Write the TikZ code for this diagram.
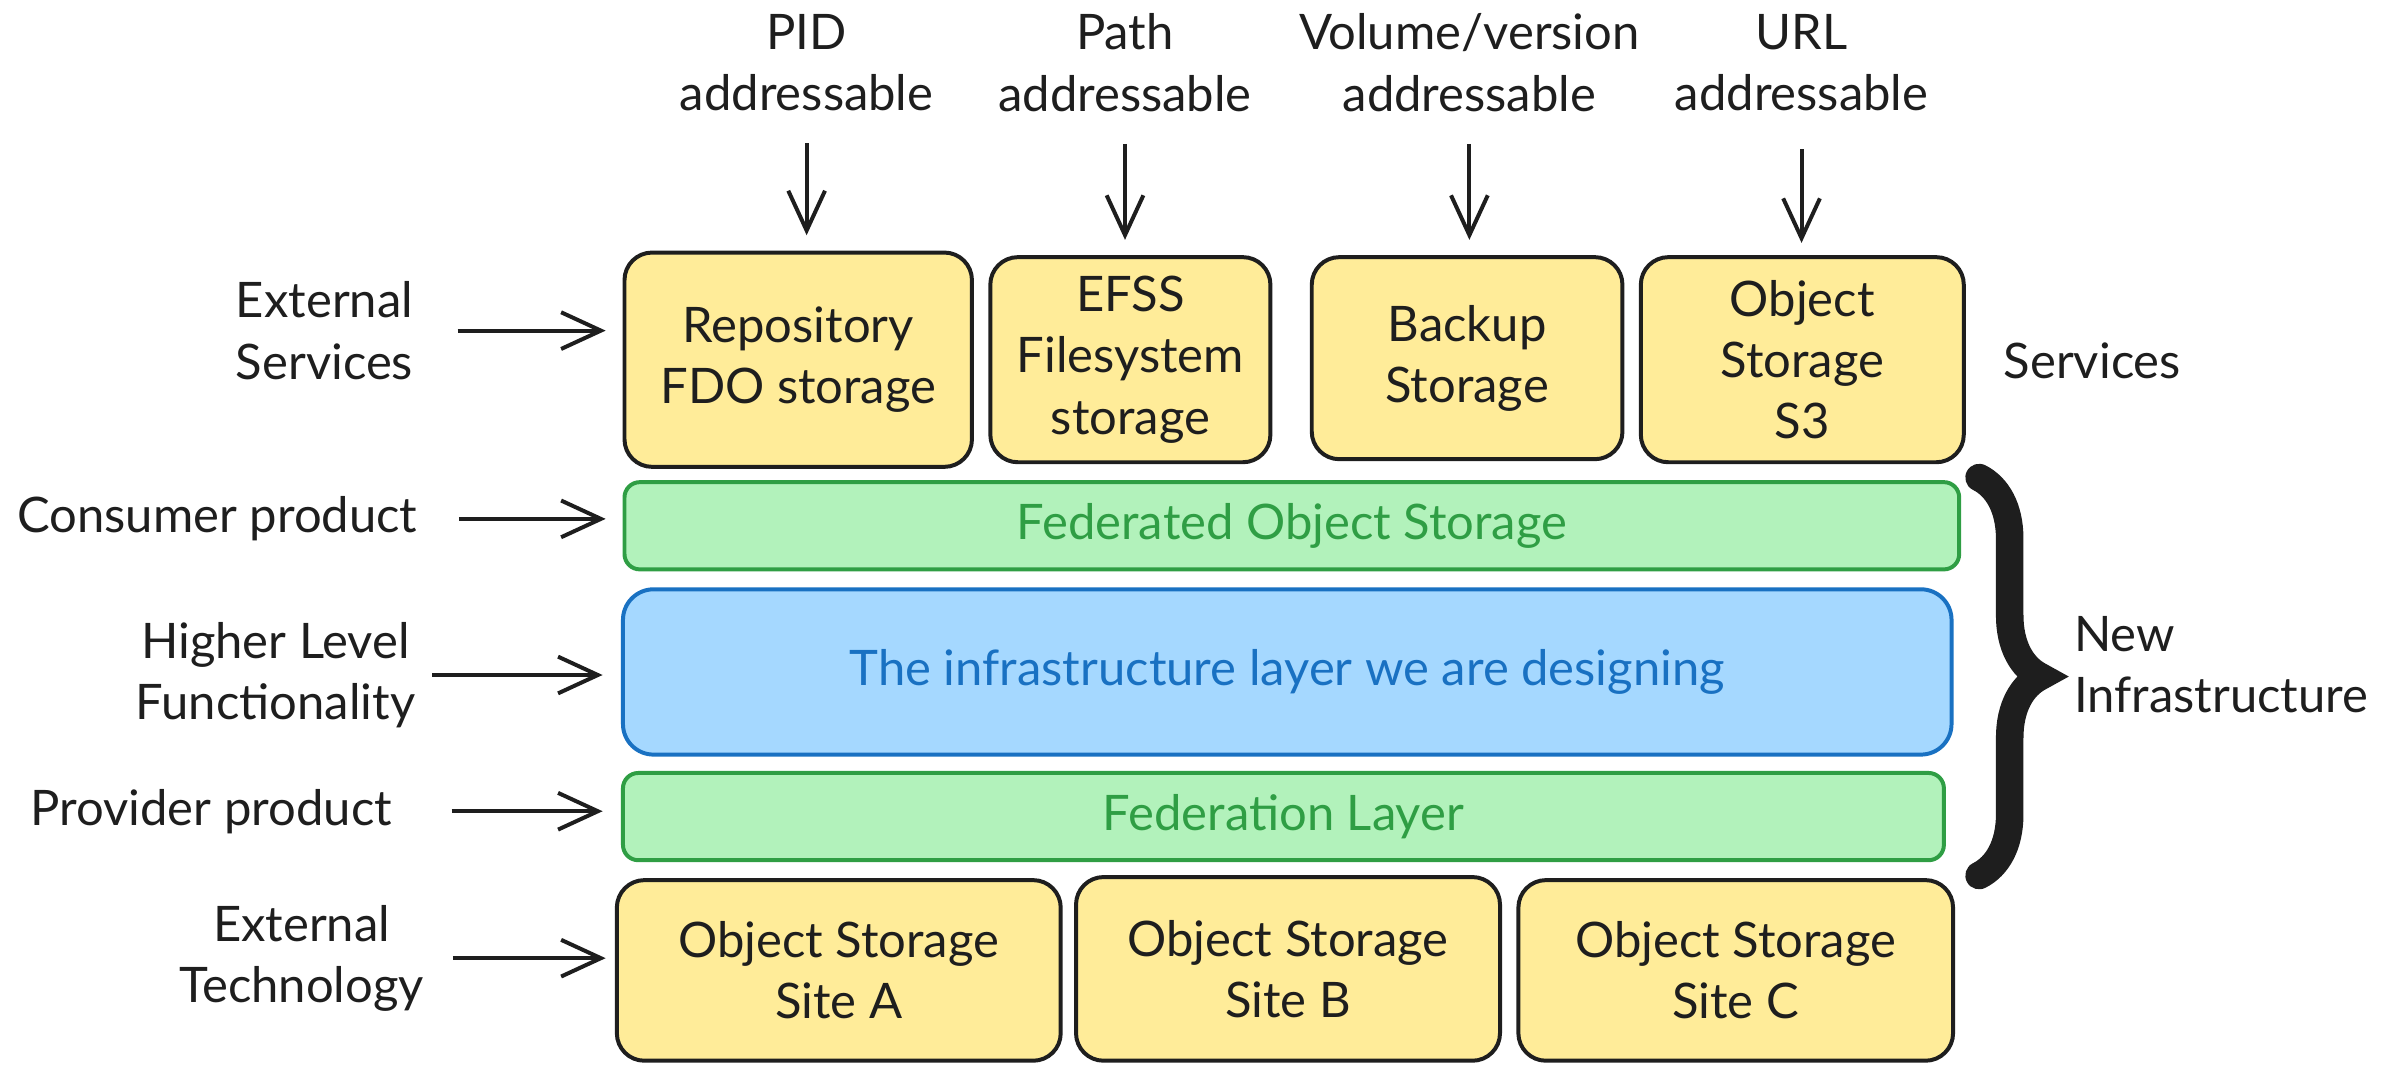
\documentclass[tikz,border=0pt]{standalone}
\usepackage{fontspec}
\setmainfont{Lato}
\usetikzlibrary{positioning}
\usetikzlibrary{arrows.meta}
\usetikzlibrary{decorations.pathreplacing}
\definecolor{ink}{HTML}{1E1E1E}
\definecolor{sand}{HTML}{FFEC99}
\definecolor{mint}{HTML}{B2F2BB}
\definecolor{leaf}{HTML}{2F9E44}
\definecolor{sky}{HTML}{A5D8FF}
\definecolor{ocean}{HTML}{1971C2}

\begin{document}
\begin{tikzpicture}[x=0.5pt, y=-0.5pt, font=\fontsize{16}{20}\selectfont, text=ink,
    svc/.style={draw=ink, fill=sand, line width=1.3pt, rounded corners=9pt, align=center},
    layer/.style={draw=leaf, fill=mint, text=leaf, line width=1.3pt, rounded corners=5pt},
    core/.style={draw=ocean, fill=sky, text=ocean, line width=1.3pt, rounded corners=10pt},
    lbl/.style={align=center},
    feed/.style={draw=ink, line width=1.3pt, -{Straight Barb[length=13pt, width=12pt, line width=1.3pt]}},
    brace/.style={draw=ink, line width=9pt, line cap=round, decorate, decoration={brace, amplitude=20pt}}]
    \useasboundingbox (0,0) rectangle (1568,697);

    % top labels
    \node[lbl] (pid) at (527,41) {PID\\addressable};
    \node[lbl] (path) at (735,41) {Path\\addressable};
    \node[lbl] (volume) at (960,41) {Volume/version\\addressable};
    \node[lbl] (url) at (1177,41) {URL\\addressable};

    % services
    \node[svc, minimum width=113.5pt, minimum height=70pt] (repo) at (521.5,235) {Repository\\FDO storage};
    \node[svc, minimum width=91.5pt, minimum height=67pt] (efss) at (738.5,235) {EFSS\\Filesystem\\storage};
    \node[svc, minimum width=101.5pt, minimum height=66pt] (backup) at (958.5,234) {Backup\\Storage};
    \node[svc, minimum width=105.5pt, minimum height=67pt] (s3) at (1177.5,235) {Object\\Storage\\S3};
    \node[lbl] (services) at (1367,236) {Services};

    % layers
    \node[layer, minimum width=436pt, minimum height=28.5pt] (fedobj) at (844,343.5) {Federated Object Storage};
    \node[core, minimum width=434pt, minimum height=54pt] (infra) at (841,439) {The infrastructure layer we are designing};
    \node[layer, minimum width=431.5pt, minimum height=28.5pt] (fedlayer) at (838.5,533.5) {Federation Layer};

    % sites
    \node[svc, minimum width=145pt, minimum height=59pt] (sitea) at (548,634) {Object Storage\\Site A};
    \node[svc, minimum width=138.5pt, minimum height=60pt] (siteb) at (841.5,633) {Object Storage\\Site B};
    \node[svc, minimum width=142pt, minimum height=59pt] (sitec) at (1134,634) {Object Storage\\Site C};

    % left labels
    \node[lbl] (extsvc) at (212,216) {External\\Services};
    \node[lbl] (consumer) at (142,339) {Consumer product};
    \node[lbl] (higher) at (180,441) {Higher Level\\Functionality};
    \node[lbl] (provider) at (138,530) {Provider product};
    \node[lbl] (exttech) at (197,626) {External\\Technology};

    % arrows
    \draw[feed, shorten <=7pt, shorten >=5pt] (pid) -- (pid |- repo.north);
    \draw[feed, shorten <=7pt, shorten >=5pt] (path) -- (path |- efss.north);
    \draw[feed, shorten <=7pt, shorten >=5pt] (volume) -- (volume |- backup.north);
    \draw[feed, shorten <=9pt, shorten >=4pt] (url) -- (url |- s3.north);
    \draw[feed, shorten <=11pt, shorten >=5.5pt] (extsvc) -- (extsvc -| repo.west);
    \draw[feed, shorten <=10pt, shorten >=5.5pt] (consumer) -- (consumer -| fedobj.west);
    \draw[feed, shorten <=2pt, shorten >=6pt] (higher) -- (higher -| infra.west);
    \draw[feed, shorten <=16pt, shorten >=6pt] (provider) -- (provider -| fedlayer.west);
    \draw[feed, shorten <=6pt, shorten >=3pt] (exttech) -- (exttech -| sitea.west);

    % brace
    \coordinate (bracetop) at (1293,312);
    \coordinate (bracebot) at (1293,572);
    \draw[brace] (bracetop) -- (bracebot);
    \node[lbl, anchor=west, align=left] (newinfra) at (1348,434) {New\\Infrastructure};
\end{tikzpicture}
\end{document}
